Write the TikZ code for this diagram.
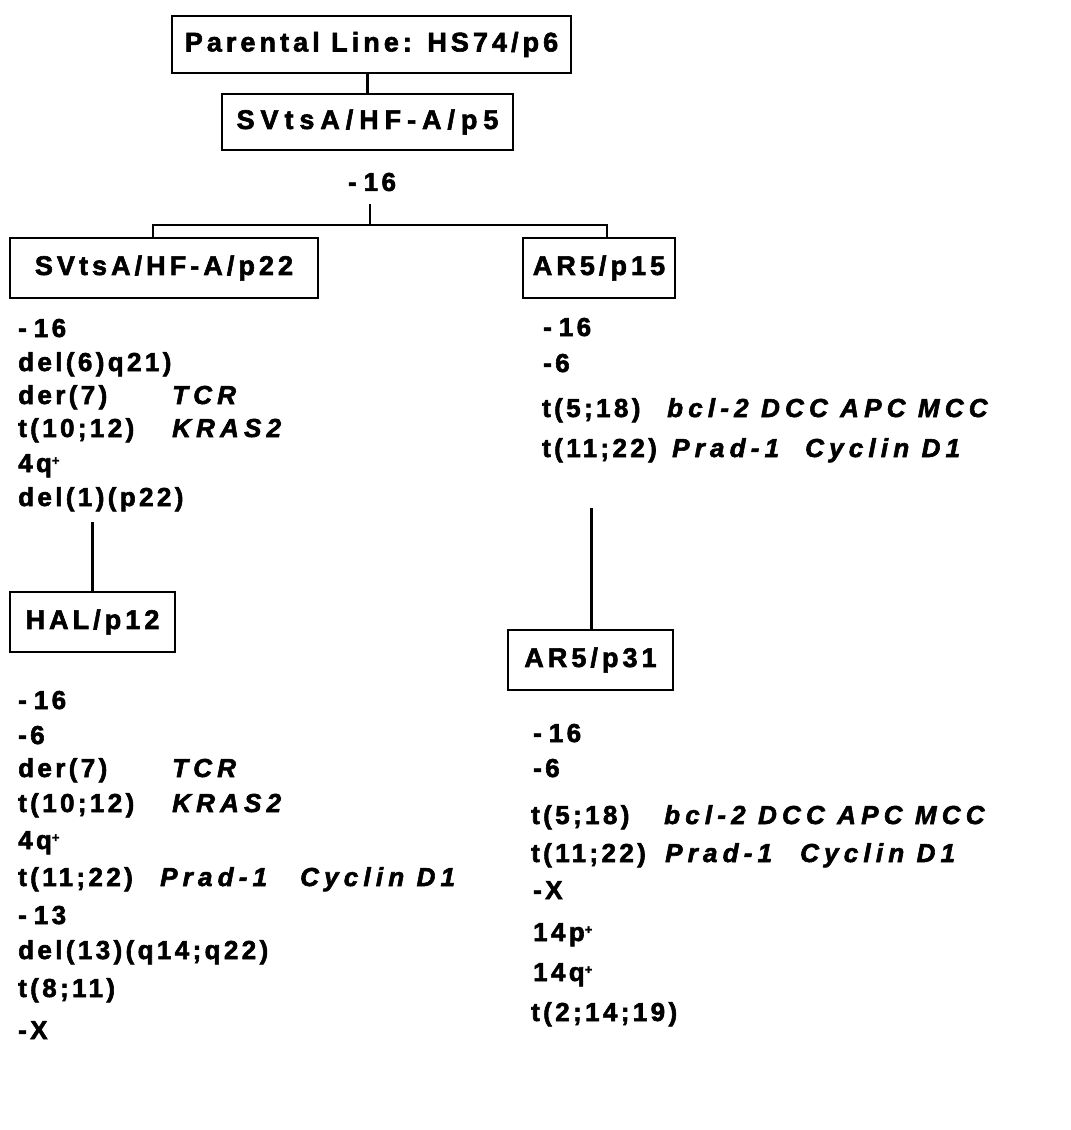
\documentclass[tikz,border=0pt]{standalone}
\usepackage{fontspec}
\setmainfont{Liberation Sans}
\newfontfamily\listfont{Liberation Sans Bold}[LetterSpace=13.0, FakeBold=2.2]
\newfontfamily\genefont{Liberation Sans Bold Italic}[LetterSpace=20.0, FakeBold=2.2]
\newfontfamily\boxfont{Liberation Sans Bold}[LetterSpace=15.0, FakeBold=2.2]
\newfontfamily\boxfontwide{Liberation Sans Bold}[LetterSpace=22.0, FakeBold=2.2]
\newcommand\gain{\raisebox{7pt}{\fontsize{13}{13}\selectfont +}}
\newcommand\lossgap{\hspace{7pt}}
\begin{document}
\begin{tikzpicture}[x=1pt,y=-1pt,
  cell/.style={draw, line width=2pt, inner sep=0pt,
    font={\boxfont\fontsize{27}{30}\selectfont}},
  widecell/.style={cell, font={\boxfontwide\fontsize{27}{30}\selectfont}},
  txt/.style={anchor=base west, inner sep=0pt,
    font={\listfont\fontsize{26}{30}\selectfont}},
  gene/.style={txt, font={\genefont\fontsize{26}{30}\selectfont}},
  link/.style={line width=3pt},
  branch/.style={line width=2.6pt}]
\useasboundingbox (0,0) rectangle (1071,1130);

% cell lines
\node[cell, minimum width=399pt, minimum height=57pt] (parent) at (371.5,44.5) {Parental Line: HS74/p6};
\node[widecell, minimum width=291pt, minimum height=56pt] (p5) at (367.5,122) {SVtsA/HF-A/p5};
\node[inner sep=0pt, font={\listfont\fontsize{26}{30}\selectfont}] (loss) at (372,182) {-\lossgap 16};
\node[cell, minimum width=308pt, minimum height=60pt] (p22) at (164,268) {SVtsA/HF-A/p22};
\node[cell, minimum width=152pt, minimum height=60pt] (p15) at (599,268) {AR5/p15};
\node[cell, minimum width=165pt, minimum height=60pt] (hal) at (92.5,622) {HAL/p12};
\node[cell, minimum width=165pt, minimum height=60pt] (p31) at (590.5,660) {AR5/p31};

% connectors
\coordinate (split) at (370,225);
\coordinate (stub) at (370,204);
\coordinate (lefttop) at (92,522);
\coordinate (righttop) at (591,508);
\draw[link] (p5.north) -- (p5.north |- parent.south);
\draw[branch] (stub) -- (split);
\draw[branch] ([xshift=-11pt]p22.north) |- (split) -| ([xshift=8pt]p15.north);
\draw[link] (lefttop) -- (lefttop |- hal.north);
\draw[link] (righttop) -- (righttop |- p31.north);

% karyotype of SVtsA/HF-A/p22
\node[txt] (a1) at (18,337) {-\lossgap 16};
\node[txt] (a2) at (18,371) {del(6)q21)};
\node[txt] (a3) at (18,404) {der(7)};
\node[gene] (a3g) at (172,404) {TCR};
\node[txt] (a4) at (18,437) {t(10;12)};
\node[gene] (a4g) at (172,437) {KRAS2};
\node[txt] (a5) at (18,472) {4q\gain};
\node[txt] (a6) at (18,506) {del(1)(p22)};

% karyotype of HAL/p12
\node[txt] (b1) at (18,709) {-\lossgap 16};
\node[txt] (b2) at (18,744) {-6};
\node[txt] (b3) at (18,777) {der(7)};
\node[gene] (b3g) at (172,777) {TCR};
\node[txt] (b4) at (18,812) {t(10;12)};
\node[gene] (b4g) at (172,812) {KRAS2};
\node[txt] (b5) at (18,849) {4q\gain};
\node[txt] (b6) at (18,886) {t(11;22)};
\node[gene] (b6g) at (160,886) {Prad-1};
\node[gene] (b6h) at (300,886) {Cyclin D1};
\node[txt] (b7) at (18,924) {-\lossgap 13};
\node[txt] (b8) at (18,959) {del(13)(q14;q22)};
\node[txt] (b9) at (18,997) {t(8;11)};
\node[txt] (b10) at (18,1039) {-X};

% karyotype of AR5/p15
\node[txt] (c1) at (543,336) {-\lossgap 16};
\node[txt] (c2) at (543,372) {-6};
\node[txt] (c3) at (542,417) {t(5;18)};
\node[gene] (c3g) at (667,417) {bcl-2 DCC APC MCC};
\node[txt] (c4) at (542,457) {t(11;22)};
\node[gene] (c4g) at (672,457) {Prad-1};
\node[gene] (c4h) at (805,457) {Cyclin D1};

% karyotype of AR5/p31
\node[txt] (d1) at (533,742) {-\lossgap 16};
\node[txt] (d2) at (533,777) {-6};
\node[txt] (d3) at (531,824) {t(5;18)};
\node[gene] (d3g) at (664,824) {bcl-2 DCC APC MCC};
\node[txt] (d4) at (531,862) {t(11;22)};
\node[gene] (d4g) at (665,862) {Prad-1};
\node[gene] (d4h) at (800,862) {Cyclin D1};
\node[txt] (d5) at (533,899) {-X};
\node[txt] (d6) at (533,941) {14p\gain};
\node[txt] (d7) at (533,981) {14q\gain};
\node[txt] (d8) at (531,1021) {t(2;14;19)};
\end{tikzpicture}
\end{document}
